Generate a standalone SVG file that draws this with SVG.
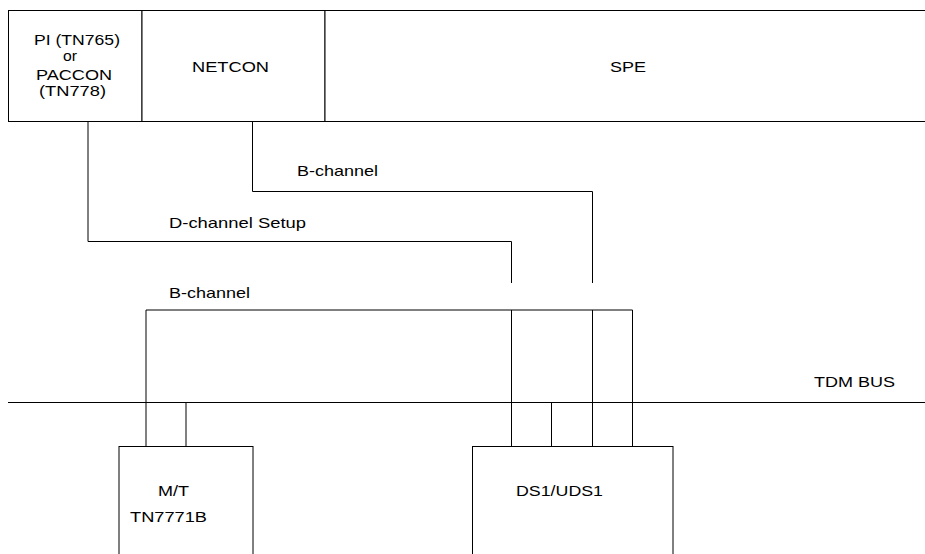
<svg xmlns="http://www.w3.org/2000/svg" width="925" height="554" viewBox="0 0 925 554">
<style>
.box{fill:#fff;stroke:#000;stroke-width:1}
.ln{fill:none;stroke:#000;stroke-width:1}
text{font-family:"Liberation Sans",Arial,sans-serif;font-size:15px;fill:#000}
</style>
<rect width="925" height="554" fill="#fff"/>
<g id="node-pi">
<rect class="box" x="8.5" y="10.5" width="133.5" height="111"/>
<text x="34" y="45" textLength="86" lengthAdjust="spacingAndGlyphs">PI (TN765)</text>
<text x="63" y="61" textLength="14" lengthAdjust="spacingAndGlyphs">or</text>
<text x="36" y="80" textLength="76" lengthAdjust="spacingAndGlyphs">PACCON</text>
<text x="39" y="96" textLength="67" lengthAdjust="spacingAndGlyphs">(TN778)</text>
</g>
<g id="node-netcon">
<rect class="box" x="142" y="10.5" width="183" height="111"/>
<text x="192" y="72" textLength="77" lengthAdjust="spacingAndGlyphs">NETCON</text>
</g>
<g id="node-spe">
<rect class="box" x="325" y="10.5" width="620" height="111"/>
<text x="610" y="72" textLength="36" lengthAdjust="spacingAndGlyphs">SPE</text>
</g>
<g id="node-tdm">
<line class="ln" x1="8" y1="402.5" x2="925" y2="402.5"/>
<text x="814" y="387" textLength="81" lengthAdjust="spacingAndGlyphs">TDM BUS</text>
</g>
<g id="node-mt">
<rect class="box" x="119" y="446.5" width="134" height="130"/>
<text x="158" y="496" textLength="31" lengthAdjust="spacingAndGlyphs">M/T</text>
<text x="130" y="522" textLength="77" lengthAdjust="spacingAndGlyphs">TN7771B</text>
</g>
<g id="node-ds1">
<rect class="box" x="472.5" y="446.5" width="200.5" height="130"/>
<text x="516" y="496" textLength="87" lengthAdjust="spacingAndGlyphs">DS1/UDS1</text>
</g>
<g id="connectors">
<path class="ln" d="M88 121.5 V241.5 H511.5 V283"/>
<path class="ln" d="M252.5 121.5 V191.5 H592.5 V283"/>
<path class="ln" d="M146 446.5 V310 H632.5 V446.5"/>
<path class="ln" d="M511.5 310 V446.5"/>
<path class="ln" d="M592.5 310 V446.5"/>
<path class="ln" d="M186 402.5 V446.5"/>
<path class="ln" d="M551.5 402.5 V446.5"/>
<text x="297" y="176" textLength="81" lengthAdjust="spacingAndGlyphs">B-channel</text>
<text x="169" y="228" textLength="137" lengthAdjust="spacingAndGlyphs">D-channel Setup</text>
<text x="169" y="298" textLength="81" lengthAdjust="spacingAndGlyphs">B-channel</text>
</g>
</svg>
